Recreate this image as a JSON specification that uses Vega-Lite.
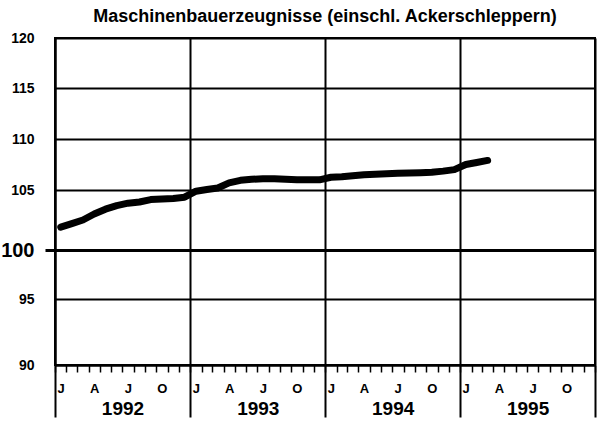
{
  "$schema": "https://vega.github.io/schema/vega-lite/v6.json",
  "width": 540,
  "height": 327,
  "autosize": {"type": "none"},
  "padding": {"left": 55, "top": 38, "right": 5, "bottom": 56},
  "background": "white",
  "title": {
    "text": "Maschinenbauerzeugnisse (einschl. Ackerschleppern)",
    "font": "Liberation Sans",
    "fontSize": 18,
    "fontWeight": "bold",
    "color": "black",
    "anchor": "middle",
    "offset": 5
  },
  "config": {
    "view": {"stroke": "black", "strokeWidth": 2},
    "axis": {
      "labelFont": "Liberation Sans",
      "labelFontWeight": "bold",
      "labelColor": "black",
      "domainColor": "black",
      "tickColor": "black",
      "gridColor": "black",
      "title": null
    }
  },
  "data": {
    "values": [
      {"monat": "1992-01", "wert": 101.9},
      {"monat": "1992-02", "wert": 102.2},
      {"monat": "1992-03", "wert": 102.5},
      {"monat": "1992-04", "wert": 103.0},
      {"monat": "1992-05", "wert": 103.4},
      {"monat": "1992-06", "wert": 103.7},
      {"monat": "1992-07", "wert": 103.9},
      {"monat": "1992-08", "wert": 104.0},
      {"monat": "1992-09", "wert": 104.2},
      {"monat": "1992-10", "wert": 104.25},
      {"monat": "1992-11", "wert": 104.3},
      {"monat": "1992-12", "wert": 104.4},
      {"monat": "1993-01", "wert": 104.9},
      {"monat": "1993-02", "wert": 105.05},
      {"monat": "1993-03", "wert": 105.2},
      {"monat": "1993-04", "wert": 105.7},
      {"monat": "1993-05", "wert": 105.95},
      {"monat": "1993-06", "wert": 106.05},
      {"monat": "1993-07", "wert": 106.1},
      {"monat": "1993-08", "wert": 106.1},
      {"monat": "1993-09", "wert": 106.05},
      {"monat": "1993-10", "wert": 106.0},
      {"monat": "1993-11", "wert": 106.0},
      {"monat": "1993-12", "wert": 106.0},
      {"monat": "1994-01", "wert": 106.25},
      {"monat": "1994-02", "wert": 106.3},
      {"monat": "1994-03", "wert": 106.4},
      {"monat": "1994-04", "wert": 106.5},
      {"monat": "1994-05", "wert": 106.55},
      {"monat": "1994-06", "wert": 106.6},
      {"monat": "1994-07", "wert": 106.65},
      {"monat": "1994-08", "wert": 106.67},
      {"monat": "1994-09", "wert": 106.7},
      {"monat": "1994-10", "wert": 106.75},
      {"monat": "1994-11", "wert": 106.85},
      {"monat": "1994-12", "wert": 107.0},
      {"monat": "1995-01", "wert": 107.5},
      {"monat": "1995-02", "wert": 107.7},
      {"monat": "1995-03", "wert": 107.9}
    ]
  },
  "layer": [
    {
      "mark": {"type": "line", "color": "black", "strokeWidth": 7, "strokeCap": "round", "strokeJoin": "round"},
      "encoding": {
        "x": {
          "field": "monat",
          "type": "temporal",
          "timeUnit": "utcyearmonth",
          "bandPosition": 0.5,
          "scale": {
            "type": "utc",
            "domain": [
              {"year": 1992, "month": 1, "date": 1, "utc": true},
              {"year": 1996, "month": 1, "date": 1, "utc": true}
            ],
            "nice": false
          },
          "axis": {
            "orient": "bottom",
            "tickCount": {"interval": "month", "step": 1},
            "labelExpr": "utcyear(datum.value) < 1996 && utcmonth(datum.value) % 3 == 0 ? ['J','A','J','O'][utcmonth(datum.value) / 3] : ''",
            "labelOffset": 5.6,
            "labelAlign": "center",
            "labelFontSize": 13,
            "labelPadding": 10,
            "labelOverlap": false,
            "labelFlush": false,
            "labelBound": false,
            "tickSize": 7,
            "tickWidth": 1.5,
            "domainWidth": 2,
            "grid": true,
            "gridWidth": 2,
            "gridOpacity": {"condition": {"test": "utcmonth(datum.value) == 0", "value": 1}, "value": 0}
          }
        },
        "y": {
          "field": "wert",
          "type": "quantitative",
          "scale": {
            "domain": [90, 95, 100, 105, 110, 115, 120],
            "range": [327, 261, 212, 152, 101, 50, 0],
            "nice": false,
            "zero": false
          },
          "axis": {
            "values": [90, 95, 100, 105, 110, 115, 120],
            "grid": true,
            "gridWidth": {"condition": {"test": "datum.value == 100", "value": 3}, "value": 2},
            "domainWidth": 2,
            "tickSize": 10,
            "tickWidth": 3,
            "tickOpacity": {"condition": {"test": "datum.value == 100", "value": 1}, "value": 0},
            "labelFontSize": {"condition": {"test": "datum.value == 100", "value": 20}, "value": 14},
            "labelPadding": 11,
            "labelBaseline": "middle"
          }
        }
      }
    },
    {
      "mark": {"type": "point", "opacity": 0},
      "encoding": {
        "x": {
          "field": "monat",
          "type": "temporal",
          "timeUnit": "utcyearmonth",
          "bandPosition": 0.5,
          "axis": {
            "orient": "bottom",
            "tickCount": {"interval": "year", "step": 1},
            "labelExpr": "utcyear(datum.value) < 1996 ? utcFormat(datum.value, '%Y') : ''",
            "labelOffset": 67.5,
            "labelAlign": "center",
            "labelFontSize": 19,
            "labelPadding": -18,
            "labelOverlap": false,
            "labelFlush": false,
            "labelBound": false,
            "tickSize": 52,
            "tickWidth": 2,
            "domain": false,
            "grid": false
          }
        }
      }
    }
  ],
  "resolve": {"axis": {"x": "independent"}}
}
